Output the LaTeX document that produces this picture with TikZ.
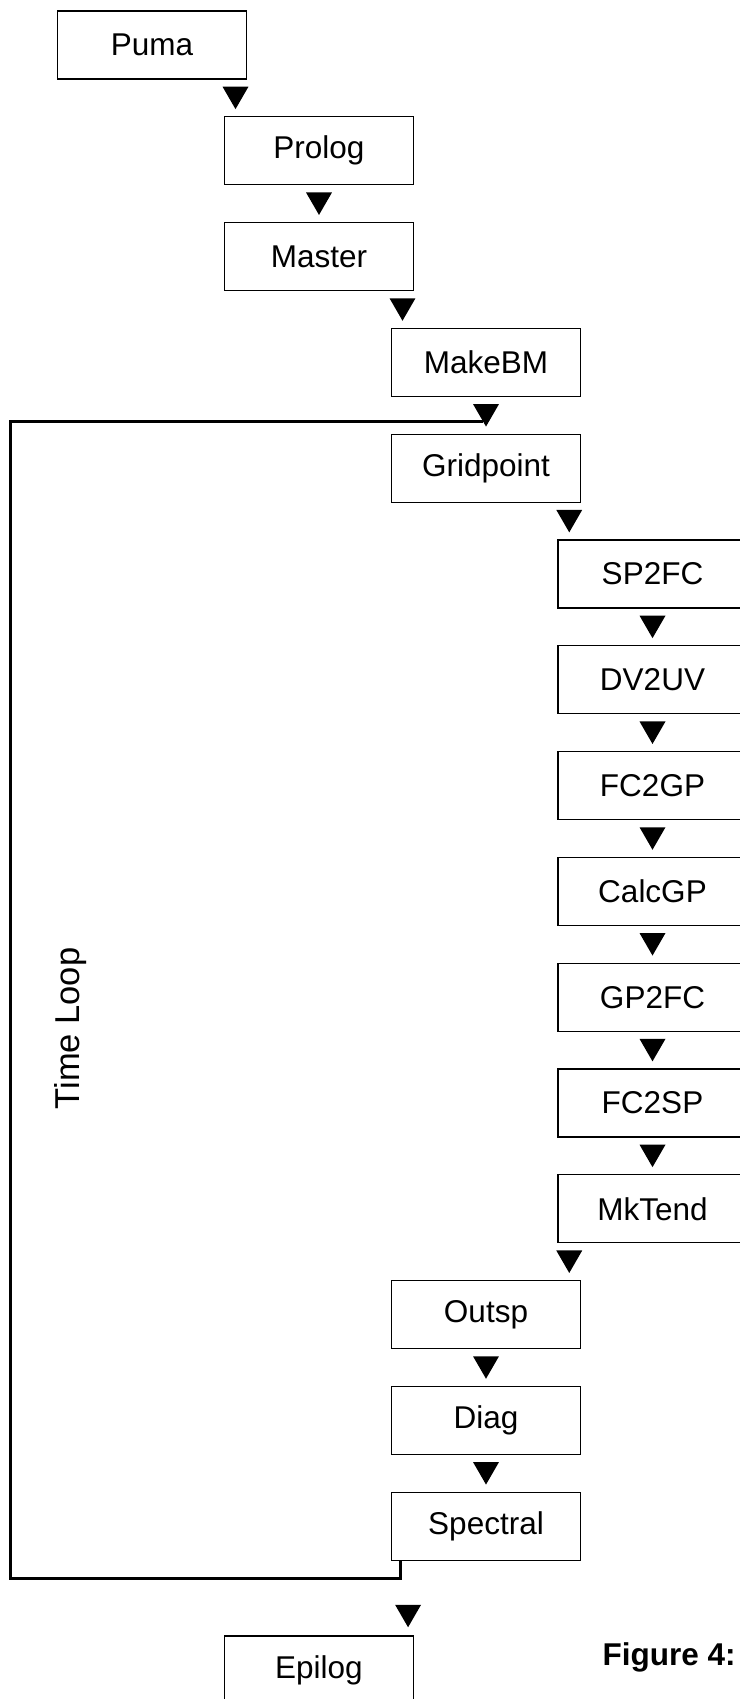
\documentclass[tikz,border=0pt]{standalone}
\usepackage{fontspec}
\setmainfont{Liberation Sans}
\usetikzlibrary{shapes.geometric}
\begin{document}
\begin{tikzpicture}[x=1pt,y=-1pt,
        proc/.style={draw,line width=1.2pt,minimum width=189pt,minimum height=68pt,inner sep=0pt,font=\fontsize{31.5}{36}\selectfont},
        arrowhd/.style={regular polygon,regular polygon sides=3,shape border rotate=180,fill=black,minimum size=30pt,inner sep=0pt,yshift=3.75pt},
        loopline/.style={line width=3pt}]
        \useasboundingbox (0,0) rectangle (739,1699);
        % start up
        \node[proc] (puma) at (152,45) {Puma};
        \node[proc] (prolog) at (319,150.8) {Prolog};
        \node[proc] (master) at (319,256.6) {Master};
        \node[proc] (makebm) at (486,362.4) {MakeBM};
        \node[proc] (gridpoint) at (486,468.2) {Gridpoint};
        % gridpoint phase
        \node[proc] (sp2fc) at (652.5,574) {SP2FC};
        \node[proc] (dv2uv) at (652.5,679.8) {DV2UV};
        \node[proc] (fc2gp) at (652.5,785.6) {FC2GP};
        \node[proc] (calcgp) at (652.5,891.4) {CalcGP};
        \node[proc] (gp2fc) at (652.5,997.2) {GP2FC};
        \node[proc] (fc2sp) at (652.5,1103) {FC2SP};
        \node[proc] (mktend) at (652.5,1208.8) {MkTend};
        % spectral phase
        \node[proc] (outsp) at (486,1314.6) {Outsp};
        \node[proc] (diag) at (486,1420.4) {Diag};
        \node[proc] (spectral) at (486,1526.2) {Spectral};
        \node[proc] (epilog) at (319,1670) {Epilog};
        % arrow heads
        \path (puma.south east) -- (prolog.north west) node[arrowhd,midway] (t1) {};
        \path (prolog.south) -- (master.north) node[arrowhd,midway] (t2) {};
        \path (master.south east) -- (makebm.north west) node[arrowhd,midway] (t3) {};
        \path (makebm.south) -- (gridpoint.north) node[arrowhd,midway] (t4) {};
        \path (gridpoint.south east) -- (sp2fc.north west) node[arrowhd,midway] (t5) {};
        \path (sp2fc.south) -- (dv2uv.north) node[arrowhd,midway] (t6) {};
        \path (dv2uv.south) -- (fc2gp.north) node[arrowhd,midway] (t7) {};
        \path (fc2gp.south) -- (calcgp.north) node[arrowhd,midway] (t8) {};
        \path (calcgp.south) -- (gp2fc.north) node[arrowhd,midway] (t9) {};
        \path (gp2fc.south) -- (fc2sp.north) node[arrowhd,midway] (t10) {};
        \path (fc2sp.south) -- (mktend.north) node[arrowhd,midway] (t11) {};
        \path (mktend.south west) -- (outsp.north east) node[arrowhd,midway] (t12) {};
        \path (outsp.south) -- (diag.north) node[arrowhd,midway] (t13) {};
        \path (diag.south) -- (spectral.north) node[arrowhd,midway] (t14) {};
        \path (spectral.south west) -- (epilog.north east) node[arrowhd,pos=0.74] (t15) {};
        % time loop
        \coordinate (lb) at (10.5,1578.5);
        \coordinate (lt) at (10.5,421.5);
        \draw[loopline] ([xshift=9.5pt]spectral.south west) |- (lb) -- (lt) -- ([xshift=-3pt]t4.south |- lt);
        \node[rotate=90,font=\fontsize{34.5}{40}\selectfont] (timeloop) at (71,1028.5) {Time Loop};
        \node[anchor=base west,font=\fontsize{31.5}{36}\selectfont\bfseries] (fig) at (599,1665) {Figure 4:};
\end{tikzpicture}
\end{document}
